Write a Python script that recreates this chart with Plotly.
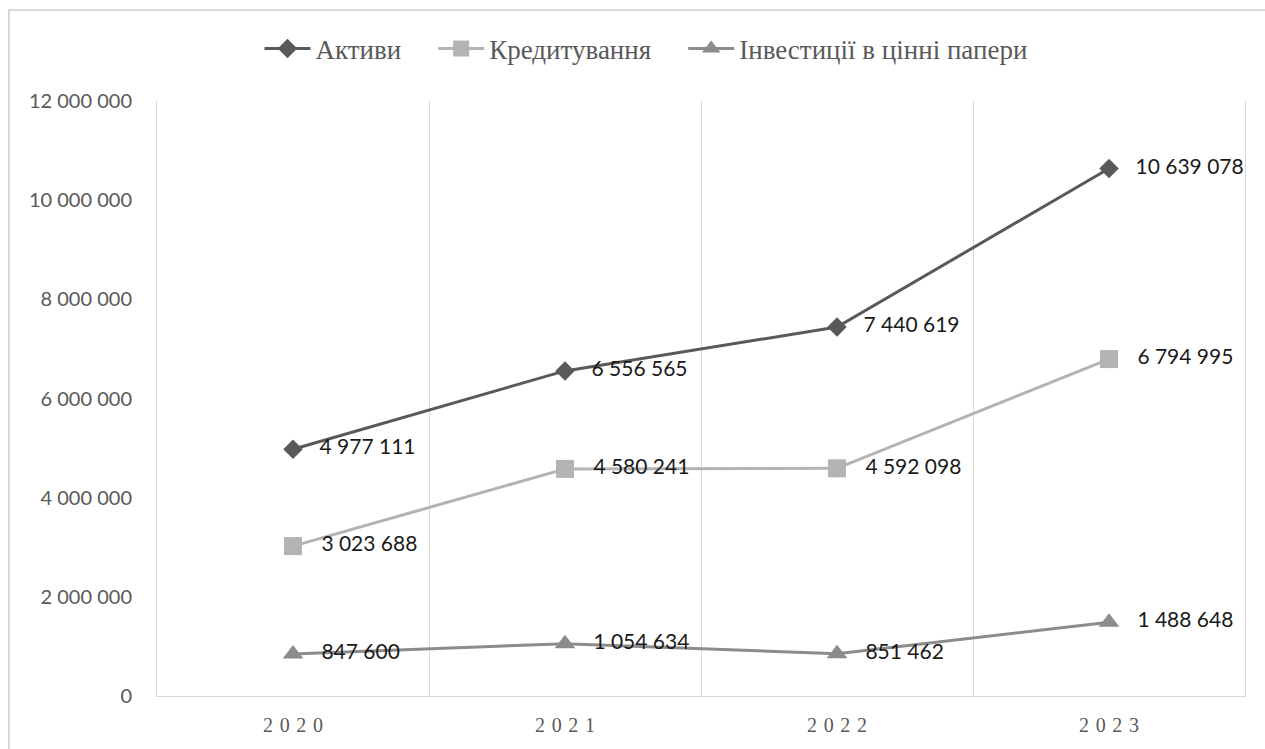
import plotly.graph_objects as go

# Data
years = ["2020", "2021", "2022", "2023"]
assets = [4977111, 6556565, 7440619, 10639078]
lending = [3023688, 4580241, 4592098, 6794995]
securities = [847600, 1054634, 851462, 1488648]

series_names = ["Активи", "Кредитування", "Інвестиції в цінні папери"]
y_ticks = [0, 2000000, 4000000, 6000000, 8000000, 10000000, 12000000]

# spaced year labels for the category axis
year_labels = ["\u2004".join(y) for y in years]

W, H = 1265, 749
L, R, T, B = 157, 20, 101, 53
plot_w = W - L - R
plot_h = H - T - B

styles = [
    dict(color="#595959", symbol="diamond", size=15),
    dict(color="#b3b3b3", symbol="square", size=18),
    dict(color="#8c8c8c", symbol="triangle-up", size=18),
]

fig = go.Figure()
for i, (name, vals, st) in enumerate(zip(series_names, [assets, lending, securities], styles)):
    # padding after each legend entry except the last
    pad = "\u00a0" * 4 if i < len(series_names) - 1 else ""
    fig.add_trace(go.Scatter(
        x=years, y=vals, name=name + pad,
        mode="lines+markers+text",
        line=dict(color=st["color"], width=3),
        marker=dict(symbol=st["symbol"], size=st["size"], color=st["color"]),
        texttemplate="   %{y:,d}",
        textposition="middle right",
        textfont=dict(family="Lato", size=21, color="#1a1a1a"),
        cliponaxis=False,
    ))

def px_to_paper_x(px):
    return (px - L) / plot_w

def px_to_paper_y(py):
    return (H - B - py) / plot_h

# outer chart frame
fig.add_shape(type="rect", xref="paper", yref="paper",
              x0=px_to_paper_x(9), x1=px_to_paper_x(1275),
              y0=px_to_paper_y(760), y1=px_to_paper_y(10),
              line=dict(color="#d9d9d9", width=2), layer="below")

fig.update_layout(
    width=W, height=H,
    margin=dict(l=L, r=R, t=T, b=B, autoexpand=False),
    paper_bgcolor="white", plot_bgcolor="white",
    separators=", ",
    showlegend=True,
    legend=dict(orientation="h", x=px_to_paper_x(646), xanchor="center",
                y=px_to_paper_y(49), yanchor="middle",
                font=dict(family="Liberation Serif", size=27, color="#595959"),
                itemwidth=46, bgcolor="rgba(0,0,0,0)"),
    xaxis=dict(type="category", categoryorder="array", categoryarray=years,
               tickvals=years, ticktext=year_labels,
               tickson="boundaries", ticks="", showgrid=True,
               gridcolor="#d9d9d9", gridwidth=1,
               showline=True, linecolor="#d9d9d9", linewidth=1,
               range=[-0.5, 3.5],
               tickfont=dict(family="Liberation Serif", size=20, color="#595959"),
               ticklabelstandoff=11, zeroline=False),
    yaxis=dict(range=[0, 12000000], tickvals=y_ticks, tickformat=",d",
               showgrid=False, zeroline=False,
               showline=True, mirror=True, linecolor="#d9d9d9", linewidth=1,
               ticks="",
               tickfont=dict(family="Lato", size=20, color="#595959"),
               ticklabelstandoff=20),
)

fig.write_html("out.html")
